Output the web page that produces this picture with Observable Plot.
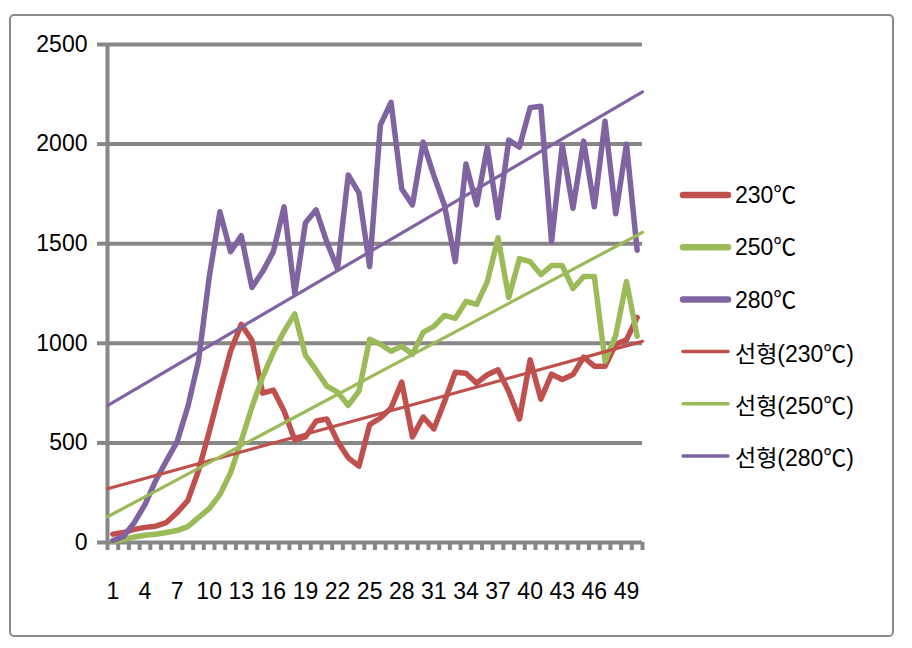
<!DOCTYPE html>
<html><head><meta charset="utf-8">
<script src="https://cdn.jsdelivr.net/npm/d3@7"></script>
<script src="https://cdn.jsdelivr.net/npm/@observablehq/plot@0.6"></script>
<style>
body{margin:0;background:#fff;}
#wrap{position:relative;width:912px;height:648px;overflow:hidden;}
#frame{position:absolute;left:9px;top:14px;width:881px;height:619px;border:2.5px solid #8a8a8a;border-radius:5px;}
#chart{position:absolute;left:0;top:0;}
#legend{position:absolute;left:0;top:0;}
</style></head><body>
<div id="wrap"><div id="frame"></div><div id="chart"></div><svg id="legend" width="912" height="648"></svg></div>
<script>
// ---- data ----
const categories = d3.range(1, 51);
const xTickLabels = [1, 4, 7, 10, 13, 16, 19, 22, 25, 28, 31, 34, 37, 40, 43, 46, 49];
const yTicks = [0, 500, 1000, 1500, 2000, 2500];
const seriesNames = ["230℃", "250℃", "280℃"];
const trendNames = ["선형(230℃)", "선형(250℃)", "선형(280℃)"];
const colors = ["#C0504D", "#9BBB59", "#8064A2"];

const t230 = [42, 50, 66, 76, 82, 100, 150, 210, 360, 555,
              760, 960, 1095, 1015, 750, 765, 660, 515, 530, 610,
              620, 508, 425, 383, 592, 625, 675, 805, 530, 630,
              570, 708, 855, 850, 800, 842, 867, 758, 620, 917,
              720, 845, 818, 843, 930, 885, 885, 995, 1017, 1130];
const t250 = [5, 15, 28, 36, 41, 50, 60, 80, 125, 170,
              240, 350, 510, 680, 830, 955, 1060, 1148, 940, 865,
              785, 755, 688, 760, 1020, 995, 960, 985, 945, 1055,
              1085, 1140, 1125, 1210, 1195, 1310, 1530, 1230, 1425, 1410,
              1345, 1390, 1390, 1275, 1335, 1335, 910, 1040, 1310, 1035];
const t280 = [10, 30, 100, 190, 310, 410, 505, 680, 910, 1330,
              1660, 1460, 1540, 1280, 1360, 1460, 1685, 1250, 1605, 1670,
              1508, 1375, 1845, 1755, 1385, 2095, 2210, 1775, 1695, 2010,
              1842, 1692, 1410, 1900, 1695, 1985, 1630, 2020, 1985, 2183,
              2190, 1510, 1995, 1678, 2015, 1685, 2115, 1650, 2000, 1467];
const seriesValues = [t230, t250, t280];

// ---- linear trend (least squares) ----
function trend(vals) {
  const n = vals.length;
  const xs = categories;
  const mx = d3.mean(xs), my = d3.mean(vals);
  let sxy = 0, sxx = 0;
  for (let i = 0; i < n; i++) { sxy += (xs[i] - mx) * (vals[i] - my); sxx += (xs[i] - mx) ** 2; }
  const b = sxy / sxx, a = my - b * mx;
  const x0 = 0.5, x1 = n + 0.5;
  return [{x: x0, y: a + b * x0}, {x: x1, y: a + b * x1}];
}

const gray = "#878787";
const marks = [
  Plot.ruleY(yTicks, {stroke: gray, strokeWidth: 4}),
  Plot.ruleX([0.5], {y1: 0, y2: 2500, stroke: gray, strokeWidth: 4}),
  Plot.axisY(yTicks, {tickSize: 10, tickPadding: 10, stroke: gray, strokeWidth: 4, fill: "#000", fontSize: 23, tickFormat: d => String(d), label: null}),
  Plot.axisX(d3.range(0.5, 51, 1), {tickSize: 8, strokeWidth: 4, stroke: gray, tickFormat: () => "", label: null}),
  Plot.axisX(xTickLabels, {tickSize: 0, tickPadding: 40, fill: "#000", fontSize: 23, tickFormat: d => String(d), label: null})
];
seriesValues.forEach((vals, k) => {
  marks.push(Plot.line(categories.map((c, i) => ({x: c, y: vals[i]})),
    {x: "x", y: "y", stroke: colors[k], strokeWidth: 5.5, strokeLinejoin: "round", strokeLinecap: "round"}));
});
seriesValues.forEach((vals, k) => {
  marks.push(Plot.line(trend(vals), {x: "x", y: "y", stroke: colors[k], strokeWidth: 3.2}));
});

const chart = Plot.plot({
  width: 912, height: 648,
  marginLeft: 107, marginRight: 270, marginTop: 44, marginBottom: 106,
  x: {type: "linear", domain: [0.5, 50.5], axis: null, label: null},
  y: {domain: [0, 2500], axis: null, label: null},
  style: {fontFamily: "'Liberation Sans', 'Noto Sans CJK KR', sans-serif", fontSize: "23px", color: "#000", background: "transparent", overflow: "visible"},
  marks
});
document.getElementById("chart").appendChild(chart);

// ---- legend ----
const leg = d3.select("#legend").style("font-family", "'Liberation Sans', 'Noto Sans CJK KR', sans-serif").style("font-size", "23px");
const entries = [
  ...seriesNames.map((n, k) => ({name: n, color: colors[k], w: 6.5})),
  ...trendNames.map((n, k) => ({name: n, color: colors[k], w: 3.5}))
];
entries.forEach((e, i) => {
  const y = 195 + i * 52.2;
  const g = leg.append("g").attr("transform", `translate(0,${y})`);
  g.append("line").attr("x1", 683).attr("x2", 728).attr("y1", 0).attr("y2", 0)
    .attr("stroke", e.color).attr("stroke-width", e.w).attr("stroke-linecap", "round");
  g.append("text").attr("x", 735).attr("y", 0).attr("dy", i >= 3 ? "0.45em" : "0.36em").text(e.name);
});
</script>
</body></html>
